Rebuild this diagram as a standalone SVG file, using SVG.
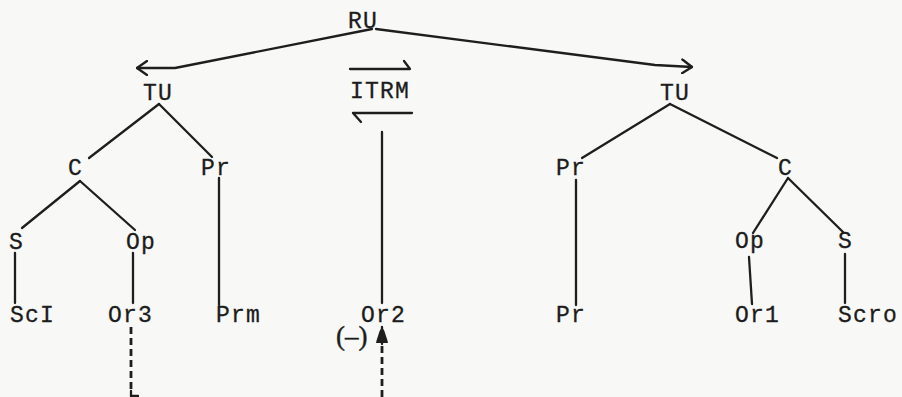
<svg xmlns="http://www.w3.org/2000/svg" width="902" height="397" viewBox="0 0 902 397">
  <style>
    .bg { fill: #f8f8f6; }
    .lbl { font-family: "Liberation Mono", "Courier New", monospace; font-size: 23px; letter-spacing: 1.2px; fill: #1c1c1c; stroke: #1c1c1c; stroke-width: 0.3px; }
    .sign { font-family: "Liberation Serif", "Times New Roman", serif; font-size: 27px; fill: #1c1c1c; stroke: #1c1c1c; stroke-width: 0.4px; }
    .edge { fill: none; stroke: #1e1e1e; stroke-width: 2.3; stroke-linecap: round; stroke-linejoin: round; }
    .dash { fill: none; stroke: #1e1e1e; stroke-width: 2.8; stroke-dasharray: 7 4; }
  </style>
  <defs>
    <marker id="chev" viewBox="0 0 12 16" refX="11" refY="8" markerWidth="12" markerHeight="16" markerUnits="userSpaceOnUse" orient="auto">
      <path d="M1,1 L11,8 L1,15" fill="none" stroke="#1e1e1e" stroke-width="2.4" stroke-linecap="round" stroke-linejoin="round"/>
    </marker>
    <marker id="solid" viewBox="0 0 16 13" refX="16" refY="6.5" markerWidth="16" markerHeight="13" markerUnits="userSpaceOnUse" orient="auto">
      <path d="M0,0.5 Q3,1 7,2.5 Q13,4 16,6.5 Q13,9 7,10.5 Q3,12 0,12.5 Z" fill="#1e1e1e"/>
    </marker>
  </defs>

  <rect class="bg" x="0" y="0" width="902" height="397"/>

  <!-- tree branches and arrows -->
  <g id="connectors">
    <!-- RU splits into the two TU units -->
    <path class="edge" d="M372,29 L175,68 L137,68" marker-end="url(#chev)"/>
    <path class="edge" d="M376,29 L655,65 L692,67" marker-end="url(#chev)"/>

    <!-- ITRM harpoons -->
    <path class="edge" d="M350,69 H410 L404,61"/>
    <path class="edge" d="M412,113 H353 L361,122"/>
    <path class="edge" d="M382,132 V303"/>

    <!-- left TU -->
    <path class="edge" d="M159,104 L89,158"/>
    <path class="edge" d="M159,104 L212,157"/>
    <path class="edge" d="M80,181 L22,228"/>
    <path class="edge" d="M80,181 L135,230"/>
    <path class="edge" d="M15,253 V303"/>
    <path class="edge" d="M133,253 V303"/>
    <path class="edge" d="M219,178 V305"/>

    <!-- right TU -->
    <path class="edge" d="M670,104 L582,158"/>
    <path class="edge" d="M670,104 L777,158"/>
    <path class="edge" d="M576,180 V305"/>
    <path class="edge" d="M788,178 L753,233"/>
    <path class="edge" d="M788,178 L843,232"/>
    <path class="edge" d="M749,257 L752,304"/>
    <path class="edge" d="M845,254 V303"/>

    <!-- dashed link from Or3 back up to Or2 (runs along the lower edge) -->
    <path class="dash" d="M131,327 V392"/>
    <path class="edge" d="M131,391 V397 M131,396 H138"/>
    <path class="dash" d="M382,397 V342"/>
    <path class="edge" d="M382,344 V327" marker-end="url(#solid)"/>
  </g>

  <g id="n-ru"><text class="lbl" x="348" y="28">RU</text></g>
  <g id="n-itrm"><text class="lbl" x="350" y="98">ITRM</text></g>

  <g id="n-tu-left"><text class="lbl" x="143" y="100">TU</text></g>
  <g id="n-c-left"><text class="lbl" x="68" y="175">C</text></g>
  <g id="n-pr-left"><text class="lbl" x="201" y="175">Pr</text></g>
  <g id="n-s-left"><text class="lbl" x="9" y="249">S</text></g>
  <g id="n-op-left"><text class="lbl" x="126" y="249">Op</text></g>
  <g id="n-sci"><text class="lbl" x="10" y="322">ScI</text></g>
  <g id="n-or3"><text class="lbl" x="108" y="322">Or3</text></g>
  <g id="n-prm"><text class="lbl" x="216" y="322">Prm</text></g>

  <g id="n-or2">
    <text class="lbl" x="361" y="322">Or2</text>
    <text class="sign" x="336" y="345">(–)</text>
  </g>

  <g id="n-tu-right"><text class="lbl" x="660" y="100">TU</text></g>
  <g id="n-pr-right"><text class="lbl" x="556" y="175">Pr</text></g>
  <g id="n-c-right"><text class="lbl" x="778" y="175">C</text></g>
  <g id="n-op-right"><text class="lbl" x="735" y="248">Op</text></g>
  <g id="n-s-right"><text class="lbl" x="838" y="248">S</text></g>
  <g id="n-pr-bottom"><text class="lbl" x="556" y="322">Pr</text></g>
  <g id="n-or1"><text class="lbl" x="735" y="322">Or1</text></g>
  <g id="n-scro"><text class="lbl" x="838" y="322">Scro</text></g>
</svg>
